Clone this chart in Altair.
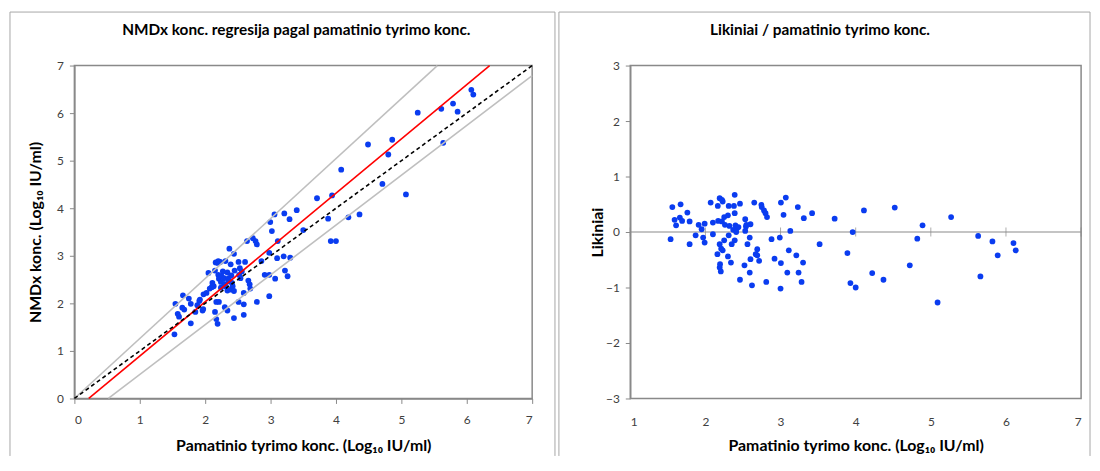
import altair as alt
import pandas as pd

# ---- Left panel: reference (x) vs NMDx (y), log10 IU/ml ----
ref_x = [1.53, 1.545, 1.58, 1.60, 1.66, 1.65, 1.68, 1.75, 1.78, 1.78, 1.85, 1.88, 1.91, 1.92, 1.975, 1.96, 1.97,
         2.02, 2.05, 2.07, 2.10, 2.11, 2.13, 2.15, 2.15, 2.16, 2.17, 2.19, 2.20, 2.21, 2.17, 2.19, 2.20, 2.21, 2.23,
         2.24, 2.24, 2.25, 2.27, 2.29, 2.29, 2.30, 2.31, 2.31, 2.34, 2.34, 2.34, 2.36, 2.36, 2.37, 2.39, 2.39, 2.40,
         2.41, 2.42, 2.44, 2.44, 2.44, 2.45, 2.51, 2.51, 2.52, 2.53, 2.54, 2.56, 2.59, 2.59, 2.61, 2.59, 2.64, 2.66,
         2.68, 2.69, 2.73, 2.77, 2.79, 2.79, 2.86, 2.91, 2.98, 2.98, 2.98, 2.995, 3.02, 3.06, 3.07, 3.10, 3.11, 3.20,
         3.21, 3.22, 3.26, 3.29, 3.30, 3.40, 3.50, 3.71, 3.88, 3.94, 3.92, 4.00, 4.08, 4.19, 4.36, 4.49, 4.71, 4.80,
         4.86, 5.07, 5.25, 5.61, 5.64, 5.79, 5.86, 6.07, 6.10]
nmdx_y = [1.35, 1.99, 1.78, 1.72, 2.17, 1.91, 1.87, 2.10, 1.99, 1.58, 1.82, 1.96, 2.05, 2.08, 2.19, 1.85, 1.88,
          2.22, 2.64, 2.31, 2.34, 2.43, 2.36, 2.69, 1.82, 2.86, 2.03, 2.85, 2.89, 2.03, 1.67, 1.57, 2.60, 2.52, 2.87,
          2.45, 2.33, 2.57, 2.67, 2.41, 2.53, 1.92, 2.89, 2.36, 1.85, 2.27, 2.65, 2.46, 2.53, 3.15, 2.82, 2.29, 2.59,
          2.43, 2.36, 1.69, 2.26, 3.04, 2.69, 2.87, 2.03, 2.60, 2.74, 2.53, 2.67, 1.98, 2.22, 2.87, 1.76, 3.31, 2.48,
          2.40, 2.31, 3.37, 3.31, 3.24, 2.03, 2.89, 2.60, 2.60, 2.15, 3.06, 3.71, 3.52, 3.87, 2.52, 2.95, 3.31, 2.99,
          3.89, 2.69, 2.57, 3.77, 2.96, 3.96, 3.54, 4.21, 3.78, 4.27, 3.31, 3.31, 4.81, 3.81, 3.87, 5.34, 4.51, 5.13,
          5.44, 4.29, 6.01, 6.09, 5.375, 6.20, 6.03, 6.49, 6.39]

# reference lines (endpoints): identity, regression, and the two bounds
ident_x = [0, 7]
ident_y = [0, 7]
reg_x = [0.22, 6.35]
reg_y = [0, 7]
upper_x = [0, 5.55]
upper_y = [0, 7]
lower_x = [0.52, 7]
lower_y = [0, 6.79]

# ---- Right panel: residuals vs reference ----
res_x = [1.537, 1.56, 1.59, 1.61, 1.66, 1.67, 1.69, 1.76, 1.79, 1.79, 1.87, 1.91, 1.95, 1.97, 1.99, 1.99, 2.07,
         2.10, 2.10, 2.16, 2.165, 2.17, 2.19, 2.19, 2.19, 2.195, 2.205, 2.21, 2.22, 2.22, 2.23, 2.23, 2.25, 2.25,
         2.26, 2.30, 2.30, 2.31, 2.31, 2.32, 2.34, 2.35, 2.37, 2.38, 2.39, 2.39, 2.39, 2.40, 2.41, 2.42, 2.44, 2.46,
         2.46, 2.52, 2.53, 2.53, 2.54, 2.545, 2.56, 2.59, 2.59, 2.60, 2.60, 2.62, 2.65, 2.67, 2.69, 2.69, 2.715,
         2.745, 2.75, 2.78, 2.80, 2.82, 2.81, 2.88, 2.92, 2.99, 3.00, 3.005, 3.005, 3.04, 3.07, 3.09, 3.11, 3.13,
         3.21, 3.23, 3.24, 3.28, 3.30, 3.31, 3.42, 3.52, 3.72, 3.89, 3.93, 3.96, 4.00, 4.11, 4.22, 4.37, 4.52, 4.72,
         4.82, 4.89, 5.09, 5.27, 5.63, 5.66, 5.82, 5.89, 6.10, 6.13]
res_y = [-0.13, 0.45, 0.22, 0.12, 0.26, 0.50, 0.20, 0.35, -0.22, 0.19, -0.06, 0.13, 0.05, -0.10, -0.19, 0.15, 0.53,
         -0.04, 0.17, -0.40, 0.47, 0.20, 0.61, -0.22, -0.64, -0.58, -0.71, -0.30, 0.58, 0.19, 0.55, -0.33, -0.15, 0.27,
         0.13, -0.44, 0.30, 0.47, -0.06, 0.11, -0.55, -0.22, 0.04, 0.47, 0.67, 0.34, -0.15, 0.12, 0.00, 0.07, 0.09, 0.51,
         -0.86, -0.60, 0.02, 0.23, 0.10, 0.13, -0.22, -0.73, -0.10, -0.49, 0.14, -0.96, 0.53, -0.40, -0.31, -0.42, -0.52,
         0.49, 0.45, 0.39, 0.34, 0.27, -0.90, -0.13, -0.48, -0.10, -1.02, 0.53, -0.56, 0.31, 0.62, -0.73, -0.33, 0.02,
         -0.42, 0.45, -0.73, -0.90, -0.55, 0.25, 0.34, -0.22, 0.24, -0.38, -0.92, 0.00, -1.00, 0.39, -0.74, -0.86, 0.44, -0.60,
         -0.12, 0.12, -1.27, 0.27, -0.07, -0.80, -0.17, -0.42, -0.20, -0.33]
tick_x = [1, 2, 3, 4, 5, 6, 7]

FONT = "Lato"
GRAY = "#898989"
FRAME = "#a6a6a6"
LABEL = "#404040"
BLUE = "#0a3cf0"
W1, W2, H = 462, 455, 336

scatter_df = pd.DataFrame({"x": ref_x, "y": nmdx_y})
lines_df = pd.DataFrame({
    "x": ident_x + reg_x + upper_x + lower_x,
    "y": ident_y + reg_y + upper_y + lower_y,
    "line": ["ident"] * 2 + ["reg"] * 2 + ["upper"] * 2 + ["lower"] * 2,
})
res_df = pd.DataFrame({"x": res_x, "y": res_y})
zero_df = pd.DataFrame({"x": [1, 7], "y": [0, 0]})
ticks_df = pd.DataFrame({"x": tick_x, "y": [0] * len(tick_x)})
one = pd.DataFrame({"k": [0]})

xtitle = "Pamatinio tyrimo konc. (Log₁₀ IU/ml)"
TOP = -54
BOTTOM = 394


def frame_layers(left, right, top, bottom):
    base = alt.Chart(one).mark_rule(color=FRAME, strokeWidth=1)
    return [
        base.encode(x=alt.value(left), y=alt.value(top), y2=alt.value(bottom)),
        base.encode(x=alt.value(right), y=alt.value(top), y2=alt.value(bottom)),
        base.encode(x=alt.value(left), x2=alt.value(right), y=alt.value(top)),
    ]


# ---------------- left panel ----------------
lx = alt.X("x:Q", scale=alt.Scale(domain=[0, 7], nice=False),
           axis=alt.Axis(values=list(range(8)), format="d", title=xtitle, tickSize=5, labelPadding=11,
                         titlePadding=13, grid=False))
ly = alt.Y("y:Q", scale=alt.Scale(domain=[0, 7], nice=False),
           axis=alt.Axis(values=list(range(8)), format="d", title="NMDx konc. (Log₁₀ IU/ml)", tickSize=5,
                         labelPadding=6, titlePadding=13, grid=False))

pts_left = alt.Chart(scatter_df).mark_circle(size=34, color=BLUE, opacity=1).encode(x=lx, y=ly)
bounds = alt.Chart(lines_df).transform_filter(
    alt.FieldOneOfPredicate(field="line", oneOf=["upper", "lower"])
).mark_line(color="#bfbfbf", strokeWidth=1.6).encode(x="x:Q", y="y:Q", detail="line:N")
regline = alt.Chart(lines_df).transform_filter(alt.datum.line == "reg").mark_line(
    color="#ff0000", strokeWidth=1.6).encode(x="x:Q", y="y:Q")
identline = alt.Chart(lines_df).transform_filter(alt.datum.line == "ident").mark_line(
    color="#000000", strokeWidth=1.6, strokeDash=[4, 3]).encode(x="x:Q", y="y:Q")

left = alt.layer(
    pts_left, bounds, regline, identline, *frame_layers(-65, 485, TOP, BOTTOM)
).properties(
    width=W1, height=H,
    title=alt.TitleParams("NMDx konc. regresija pagal pamatinio tyrimo konc.", anchor="middle",
                          frame="group", dx=-7, offset=-27),
)

# ---------------- right panel ----------------
rx = alt.X("x:Q", scale=alt.Scale(domain=[1, 7], nice=False),
           axis=alt.Axis(values=list(range(1, 8)), format="d", title=xtitle, ticks=False, tickSize=0,
                         domain=False, labelPadding=18, titlePadding=11, grid=False))
ry = alt.Y("y:Q", scale=alt.Scale(domain=[-3, 3], nice=False),
           axis=alt.Axis(values=list(range(-3, 4)), format="d", title="Likiniai", tickSize=5, labelPadding=6,
                         titlePadding=0, grid=False))

zero_line = alt.Chart(zero_df).mark_line(color=GRAY, strokeWidth=1.2).encode(x=rx, y=ry)
zero_ticks = alt.Chart(ticks_df).mark_tick(color=GRAY, orient="vertical", size=9, thickness=1).encode(
    x="x:Q", y="y:Q")
pts_right = alt.Chart(res_df).mark_circle(size=34, color=BLUE, opacity=1).encode(x="x:Q", y="y:Q")

right = alt.layer(
    zero_line, zero_ticks, pts_right, *frame_layers(-72, 464, TOP, BOTTOM)
).properties(
    width=W2, height=H,
    title=alt.TitleParams("Likiniai / pamatinio tyrimo konc.", anchor="middle", frame="group",
                          dx=-36, offset=-27),
)

chart = alt.hconcat(left, right, spacing=0, padding=0).configure(
    font=FONT, background="white"
).configure_view(
    stroke=GRAY, strokeWidth=1.5
).configure_axis(
    labelFont=FONT, labelFontSize=12, labelColor=LABEL, titleFont=FONT, titleFontSize=16,
    titleFontWeight="bold", titleColor="#000000", domainColor=GRAY, domainWidth=1.5,
    tickColor=GRAY, tickWidth=1
).configure_title(
    font=FONT, fontSize=15.5, fontWeight="bold", color="#000000"
)

chart.save("out.html", embed_options={"renderer": "svg", "actions": False})
